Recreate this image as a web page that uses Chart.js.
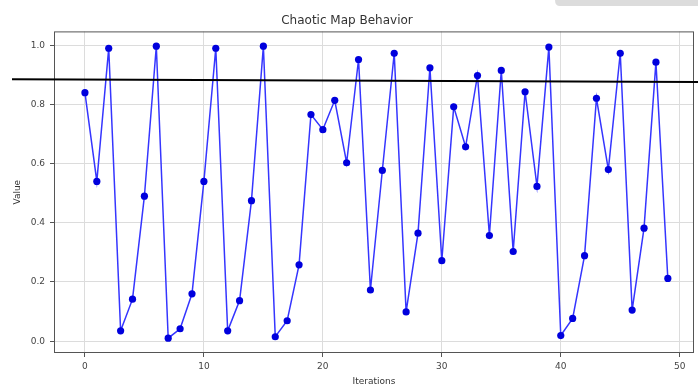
<!DOCTYPE html>
<html>
<head>
<meta charset="utf-8">
<script src="https://cdn.jsdelivr.net/npm/chart.js@4.4.1/dist/chart.umd.min.js"></script>
<style>
  html, body { margin: 0; padding: 0; background: #fff; }
  #wrap { width: 698px; height: 387px; position: relative; }
</style>
</head>
<body>
<div id="wrap"><canvas id="chart"></canvas></div>
<script>
const iterations = Array.from({ length: 50 }, (_, i) => i);
const values = [
  0.84, 0.54, 0.99, 0.035, 0.142, 0.49, 0.997, 0.01, 0.042, 0.16,
  0.54, 0.99, 0.035, 0.137, 0.475, 0.997, 0.015, 0.069, 0.258, 0.766,
  0.715, 0.814, 0.603, 0.952, 0.173, 0.577, 0.973, 0.099, 0.365, 0.924,
  0.272, 0.792, 0.657, 0.898, 0.357, 0.915, 0.303, 0.843, 0.523, 0.994,
  0.019, 0.077, 0.289, 0.821, 0.58, 0.973, 0.105, 0.382, 0.943, 0.212
];
const xTicks = [0, 10, 20, 30, 40, 50];
const yTicks = [0.0, 0.2, 0.4, 0.6, 0.8, 1.0];

const points = iterations.map((x, i) => ({ x: x, y: values[i] }));

// frame + overlay marks seen on the picture
const extras = {
  id: "extras",
  afterDraw(chart) {
    const ctx = chart.ctx;
    const a = chart.chartArea;
    ctx.save();
    ctx.strokeStyle = "#555";
    ctx.lineWidth = 1;
    ctx.strokeRect(a.left + 0.5, a.top + 0.5, a.right - a.left - 1, a.bottom - a.top - 1);

    ctx.strokeStyle = "#000";
    ctx.lineWidth = 2;
    ctx.beginPath();
    ctx.moveTo(12, 79.3);
    ctx.lineTo(698, 82);
    ctx.stroke();

    ctx.fillStyle = "#dcdcdc";
    ctx.beginPath();
    ctx.moveTo(555, 0);
    ctx.lineTo(698, 0);
    ctx.lineTo(698, 6);
    ctx.lineTo(560, 6);
    ctx.quadraticCurveTo(555, 6, 555, 0);
    ctx.fill();
    ctx.restore();
  }
};

new Chart(document.getElementById("chart"), {
  type: "line",
  data: {
    datasets: [{
      data: points,
      borderColor: "#3535ff",
      borderWidth: 1.5,
      pointBackgroundColor: "#0000dd",
      pointBorderColor: "#0000dd",
      pointRadius: 3.6,
      pointBorderWidth: 0,
      tension: 0
    }]
  },
  options: {
    responsive: true,
    maintainAspectRatio: false,
    animation: false,
    layout: { padding: { left: 0, right: 4, top: 0, bottom: 0 } },
    plugins: {
      legend: { display: false },
      tooltip: { enabled: false },
      title: {
        display: true,
        text: "Chaotic Map Behavior",
        color: "#333",
        font: { family: "DejaVu Sans", size: 12, weight: "normal" },
        padding: { top: 14, bottom: 3 }
      }
    },
    scales: {
      x: {
        type: "linear",
        min: -2.6,
        max: 51.2,
        afterBuildTicks(s) { s.ticks = xTicks.map(v => ({ value: v })); },
        afterFit(s) { s.height = 34; },
        ticks: {
          color: "#444",
          font: { family: "DejaVu Sans", size: 9 },
          padding: 4,
          maxRotation: 0,
          callback: v => String(v)
        },
        grid: { color: "#dcdcdc", tickLength: 4, tickColor: "#555" },
        border: { display: false },
        title: {
          display: true,
          text: "Iterations",
          color: "#333",
          font: { family: "DejaVu Sans", size: 9 },
          padding: { top: 1, bottom: 0 }
        }
      },
      y: {
        min: -0.04,
        max: 1.047,
        afterBuildTicks(s) { s.ticks = yTicks.map(v => ({ value: v })); },
        afterFit(s) { s.width = 54; },
        ticks: {
          color: "#444",
          font: { family: "DejaVu Sans", size: 9 },
          padding: 5,
          callback: v => Number(v).toFixed(1)
        },
        grid: { color: "#dcdcdc", tickLength: 4, tickColor: "#555" },
        border: { display: false },
        title: {
          display: true,
          text: "Value",
          color: "#333",
          font: { family: "DejaVu Sans", size: 9 },
          padding: { top: 12, bottom: 0 }
        }
      }
    }
  },
  plugins: [extras]
});
</script>
</body>
</html>
